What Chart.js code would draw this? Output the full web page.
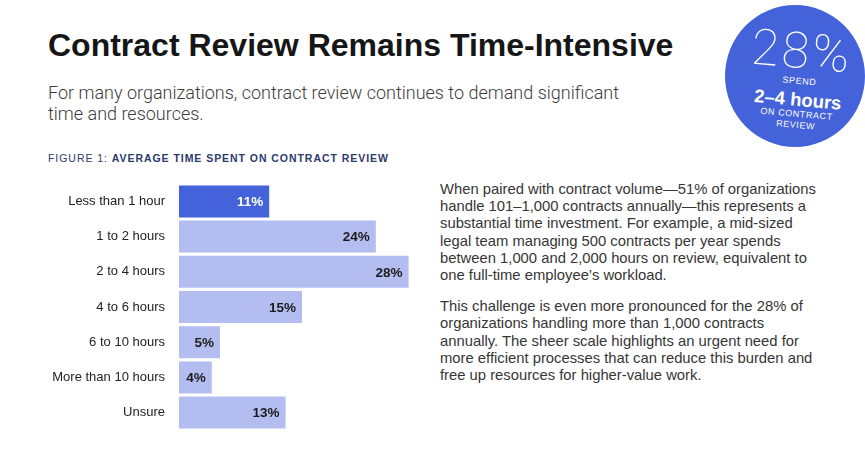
<!DOCTYPE html>
<html lang="en">
<head>
    <meta charset="UTF-8">
    <title>Contract Review Remains Time-Intensive</title>
    <script src="https://cdn.jsdelivr.net/npm/chart.js"></script>
    <style>
        body {
            margin: 0;
            width: 865px;
            height: 470px;
            background: #ffffff;
            position: relative;
            overflow: hidden;
            font-family: "Liberation Sans", Arial, sans-serif;
        }
        .title {
            position: absolute;
            left: 48px;
            top: 27px;
            font-size: 32px;
            font-weight: bold;
            color: #161616;
            white-space: nowrap;
        }
        .subtitle {
            position: absolute;
            left: 48px;
            top: 82px;
            font-family: Roboto, "Liberation Sans", sans-serif;
            font-weight: 300;
            font-size: 18px;
            line-height: 21px;
            color: #3c3c3c;
            white-space: nowrap;
        }
        .figure-label {
            position: absolute;
            left: 48px;
            top: 152px;
            font-size: 10.5px;
            letter-spacing: 0.95px;
            color: #2d3a6c;
            white-space: nowrap;
        }
        .figure-label b { font-weight: bold; }
        .body-text {
            position: absolute;
            left: 440px;
            top: 181px;
            font-size: 14.8px;
            line-height: 17.2px;
            color: #363636;
            white-space: nowrap;
        }
        .body-text p { margin: 0 0 14px 0; }
        .badge {
            position: absolute;
            left: 725px;
            top: 5px;
            width: 140px;
            height: 142px;
            border-radius: 50%;
            background: #4462d9;
        }
        .badge-text {
            position: absolute;
            left: 5px;
            top: 0;
            width: 140px;
            text-align: center;
            color: #ffffff;
            transform: rotate(5deg);
            transform-origin: 70px 70px;
        }
        .badge .big {
            position: absolute; left: 0; width: 140px; top: 21px;
            font-family: Roboto, sans-serif; font-weight: 100; font-size: 50px; line-height: 50px;
            letter-spacing: 3px;
        }
        .badge .small {
            position: absolute; left: 0; width: 140px;
            font-size: 9px; letter-spacing: 0.6px; line-height: 11px;
        }
        .badge .hours {
            position: absolute; left: 0; width: 140px; top: 84px;
            font-size: 18.5px; font-weight: bold; line-height: 22px;
        }
        #chartWrap {
            position: absolute;
            left: 0;
            top: 162px;
            width: 430px;
            height: 290px;
        }
    </style>
</head>
<body>
    <div class="title">Contract Review Remains Time-Intensive</div>
    <div class="subtitle">For many organizations, contract review continues to demand significant<br>time and resources.</div>
    <div class="figure-label">FIGURE 1: <b>AVERAGE TIME SPENT ON CONTRACT REVIEW</b></div>

    <div class="body-text">
        <p>When paired with contract volume—51% of organizations<br>handle 101–1,000 contracts annually—this represents a<br>substantial time investment. For example, a mid-sized<br>legal team managing 500 contracts per year spends<br>between 1,000 and 2,000 hours on review, equivalent to<br>one full-time employee’s workload.</p>
        <p>This challenge is even more pronounced for the 28% of<br>organizations handling more than 1,000 contracts<br>annually. The sheer scale highlights an urgent need for<br>more efficient processes that can reduce this burden and<br>free up resources for higher-value work.</p>
    </div>

    <div class="badge">
        <div class="badge-text">
            <div class="big">28%</div>
            <div class="small" style="top:71px">SPEND</div>
            <div class="hours">2–4 hours</div>
            <div class="small" style="top:104px">ON CONTRACT</div>
            <div class="small" style="top:115px">REVIEW</div>
        </div>
    </div>

    <div id="chartWrap"><canvas id="timeChart"></canvas></div>

    <script>
        // Survey answers: average time spent on contract review
        const categories = ['Less than 1 hour', '1 to 2 hours', '2 to 4 hours', '4 to 6 hours',
                            '6 to 10 hours', 'More than 10 hours', 'Unsure'];
        const shares = [11, 24, 28, 15, 5, 4, 13];
        const highlighted = ['Less than 1 hour'];

        const darkBlue = '#4462d9';
        const lightBlue = '#b4bdf0';

        // Writes the percentage inside the right end of each bar
        const valueLabels = {
            id: 'valueLabels',
            afterDatasetsDraw(chart) {
                const ctx = chart.ctx;
                const meta = chart.getDatasetMeta(0);
                ctx.save();
                ctx.font = 'bold 13.5px "Liberation Sans", Arial, sans-serif';
                ctx.textAlign = 'right';
                ctx.textBaseline = 'middle';
                meta.data.forEach((bar, i) => {
                    ctx.fillStyle = highlighted.includes(categories[i]) ? '#ffffff' : '#1c1c1c';
                    ctx.fillText(shares[i] + '%', bar.x - 6, bar.y + 1);
                });
                ctx.restore();
            }
        };

        const ctx = document.getElementById('timeChart').getContext('2d');
        new Chart(ctx, {
            type: 'bar',
            data: {
                labels: categories,
                datasets: [{
                    data: shares,
                    backgroundColor: categories.map(c => highlighted.includes(c) ? darkBlue : lightBlue),
                    borderWidth: 0,
                    categoryPercentage: 1,
                    barPercentage: 0.91
                }]
            },
            options: {
                indexAxis: 'y',
                responsive: true,
                maintainAspectRatio: false,
                animation: false,
                layout: { padding: { top: 8, bottom: 10, left: 0, right: 5 } },
                plugins: {
                    legend: { display: false },
                    tooltip: { enabled: false }
                },
                scales: {
                    x: {
                        display: false,
                        min: 0,
                        max: 30
                    },
                    y: {
                        grid: { display: false, drawTicks: false },
                        border: { display: false },
                        ticks: {
                            padding: 14,
                            color: '#222222',
                            font: { family: '"Liberation Sans", Arial, sans-serif', size: 13 }
                        },
                        afterFit(scale) { scale.width = 179; }
                    }
                }
            },
            plugins: [valueLabels]
        });
    </script>
</body>
</html>
